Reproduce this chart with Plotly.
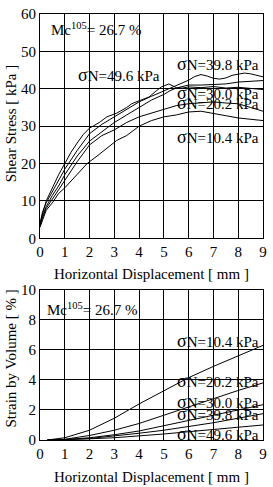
import plotly.graph_objects as go

# ---- data: shear stress vs horizontal displacement ----
xa = [0, 0.1, 0.25, 0.5, 0.75, 1.0, 1.25, 1.5, 1.75, 2.0, 2.4, 2.7, 3.1, 3.5, 3.7, 4.0, 4.4, 4.7, 4.9, 5.2, 5.5, 5.75, 6.0, 6.5, 7.0, 7.5, 8.0, 8.5, 9.0]
ya = [3.5, 6.5, 10, 13.5, 17, 20, 23, 25.5, 27.8, 29.5, 31, 32.5, 33.5, 35, 36, 36.8, 37.8, 39.5, 40.5, 41.3, 40.3, 40.2, 40.5, 40.3, 40.6, 40.2, 40.4, 40.1, 39.8]
xb = [0, 0.1, 0.25, 0.5, 0.75, 1, 1.5, 2, 2.5, 3, 3.5, 4, 4.5, 5, 5.5, 6, 6.25, 6.5, 6.75, 7, 7.25, 7.5, 7.75, 8, 8.25, 8.5, 8.75, 9]
yb = [4, 7, 9.5, 12.5, 15.5, 18.5, 23.5, 28, 30.5, 32.5, 34.5, 36.5, 38, 39.5, 41, 42.3, 43.3, 43.8, 43.4, 42.8, 42.6, 42.9, 43.6, 44, 44.2, 44, 43.7, 43.2]
xc = [0, 0.1, 0.25, 0.5, 0.75, 1, 1.5, 2, 2.5, 3, 3.5, 4, 4.5, 5, 5.25, 5.5, 6, 6.5, 7, 7.5, 8, 8.5, 9]
yc = [3.5, 6, 8.5, 11.5, 14, 17, 22, 26, 28.5, 31, 33, 35, 37, 38.5, 39.5, 40.2, 41, 41, 41.2, 41.3, 41.8, 42, 42.2]
xd = [0, 0.1, 0.25, 0.5, 0.75, 1, 1.5, 2, 2.5, 3, 3.5, 4, 4.5, 5, 5.5, 6, 6.5, 7, 7.5, 8, 8.5, 9]
yd = [3, 5.5, 8, 10.5, 13, 15.5, 20.5, 25, 27.5, 29, 31, 32.5, 33.5, 34.5, 35.5, 36, 36.3, 36.5, 36.2, 36, 35, 34]
xe = [0, 0.1, 0.25, 0.5, 0.75, 1, 1.5, 1.9, 2.3, 2.7, 3.1, 3.5, 4, 4.5, 5, 5.5, 6, 6.5, 7, 7.5, 8, 8.5, 9]
ye = [3, 5, 7.5, 9.5, 12, 13.5, 17, 20, 22, 24, 26.2, 27.5, 30, 31.5, 32.5, 33, 33.8, 34, 33.5, 32.8, 32.2, 31.8, 31.5]

# ---- data: volumetric strain vs horizontal displacement ----
xv = [0.3, 1, 2, 3, 4, 5, 6, 7, 8, 9]
v104 = [0, 0.15, 0.65, 1.45, 2.4, 3.3, 4.15, 4.9, 5.6, 6.3]
v202 = [0, 0.05, 0.3, 0.65, 1.1, 1.65, 2.25, 2.8, 3.3, 3.8]
v300 = [0, 0.03, 0.15, 0.35, 0.6, 0.95, 1.3, 1.65, 2.0, 2.35]
v398 = [0, 0.02, 0.1, 0.25, 0.45, 0.65, 0.9, 1.15, 1.45, 1.75]
v496 = [0, 0.02, 0.08, 0.15, 0.25, 0.4, 0.55, 0.7, 0.85, 1.0]

SIG = '<span style="font-size:18px">σ</span>'
shear_labels = [SIG + "N=49.6 kPa", SIG + "N=39.8 kPa", SIG + "N=30.0 kPa", SIG + "N=20.2 kPa", SIG + "N=10.4 kPa"]
shear_lab_x = [1.45, 5.45, 5.45, 5.45, 5.45]
shear_lab_y = [43.6, 46.5, 38.9, 36.2, 27.0]
vol_labels = [SIG + "N=10.4 kPa", SIG + "N=20.2 kPa", SIG + "N=30.0 kPa", SIG + "N=39.8 kPa", SIG + "N=49.6 kPa"]
vol_lab_x = [5.45, 5.45, 5.45, 5.45, 5.45]
vol_lab_y = [6.6, 3.9, 2.55, 1.7, 0.4]

FONT = "Liberation Serif"
fig = go.Figure()
line = dict(color="black", width=1)
for x, y in [(xa, ya), (xb, yb), (xc, yc), (xd, yd), (xe, ye)]:
    fig.add_trace(go.Scatter(x=x, y=y, mode="lines", line=line, xaxis="x", yaxis="y", showlegend=False))
for y in [v104, v202, v300, v398, v496]:
    fig.add_trace(go.Scatter(x=xv, y=y, mode="lines", line=line, xaxis="x2", yaxis="y2", showlegend=False))

H_TOTAL = 431.0
def py(px):
    return (440 - px) / H_TOTAL

ax = dict(showgrid=True, gridcolor="black", gridwidth=1, showline=True, mirror=True,
          linecolor="black", linewidth=1, zeroline=False, ticks="",
          tickfont=dict(family=FONT, size=15, color="black"))
fig.update_layout(
    width=273, height=487,
    margin=dict(l=40, r=6, t=9, b=47),
    paper_bgcolor="white", plot_bgcolor="white",
    xaxis=dict(ax, range=[0, 9], dtick=1, domain=[0, 1], anchor="y"),
    yaxis=dict(ax, range=[0, 60], dtick=10, domain=[py(236), 1], anchor="x"),
    xaxis2=dict(ax, range=[0, 9], dtick=1, domain=[0, 1], anchor="y2"),
    yaxis2=dict(ax, range=[0, 10], dtick=2, domain=[0, py(288)], anchor="x2"),
    font=dict(family=FONT, size=15, color="black"),
)

ann = []
tf = dict(family=FONT, size=15, color="black")
ann.append(dict(text="Horizontal Displacement [ mm ]", x=0.5, y=py(272), xref="paper", yref="paper",
                showarrow=False, font=tf, xanchor="center", yanchor="middle"))
ann.append(dict(text="Horizontal Displacement [ mm ]", x=0.5, y=py(477), xref="paper", yref="paper",
                showarrow=False, font=tf, xanchor="center", yanchor="middle"))
ann.append(dict(text="Shear Stress [ kPa ]", x=(10 - 40) / 227, y=py(120), xref="paper", yref="paper",
                showarrow=False, font=tf, textangle=-90, xanchor="center", yanchor="middle"))
ann.append(dict(text="Strain by Volume [ % ]", x=(10 - 40) / 227, y=py(358), xref="paper", yref="paper",
                showarrow=False, font=tf, textangle=-90, xanchor="center", yanchor="middle"))
ann.append(dict(text="Mc<sup>105</sup>= 26.7 %", x=0.35, y=56.1, xref="x", yref="y",
                showarrow=False, font=tf, xanchor="left", yanchor="middle"))
ann.append(dict(text="Mc<sup>105</sup>= 26.7 %", x=0.2, y=8.7, xref="x2", yref="y2",
                showarrow=False, font=tf, xanchor="left", yanchor="middle"))
for t, x, y in zip(shear_labels, shear_lab_x, shear_lab_y):
    ann.append(dict(text=t, x=x, y=y, xref="x", yref="y", showarrow=False, font=tf,
                    xanchor="left", yanchor="middle"))
for t, x, y in zip(vol_labels, vol_lab_x, vol_lab_y):
    ann.append(dict(text=t, x=x, y=y, xref="x2", yref="y2", showarrow=False, font=tf,
                    xanchor="left", yanchor="middle"))
fig.update_layout(annotations=ann)

fig.write_html("out.html")
